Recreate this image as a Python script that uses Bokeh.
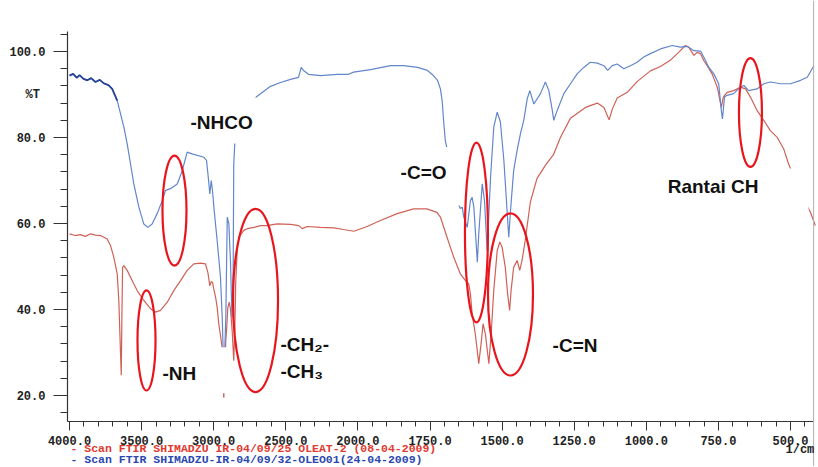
from bokeh.plotting import figure
from bokeh.models import (CustomJSTransform, FixedTicker, Label, BoxAnnotation,
                          Span, ColumnDataSource, Range1d, CDSView, IndexFilter)
from bokeh.transform import transform
from bokeh.embed import file_html
from bokeh.resources import INLINE

# ---------------- data ----------------
BLUE_WN = [4000, 3975, 3950, 3930, 3905, 3877, 3850, 3820, 3790, 3762, 3730, 3704,
           3669, 3646, 3623, 3600, 3577, 3554, 3519, 3485, 3457, 3427, 3392, 3357,
           3334, 3300, 3253, 3218, 3184, 3150, 3068, 3050, 3040, 3034, 3027, 3017,
           3008, 2999, 2976, 2953, 2941, 2934, 2930, 2925, 2916, 2906, 2895, 2883,
           2874, 2865, 2861, 2854, 2848, 2800, 2710, 2606, 2537, 2467, 2412, 2393,
           2377, 2343, 2259, 2141, 2065, 2030, 1956, 1887, 1842, 1793, 1759, 1738,
           1724, 1714, 1708, 1703, 1697, 1691, 1680, 1660, 1645, 1638, 1633, 1621,
           1610, 1604, 1598, 1586, 1581, 1569, 1561, 1552, 1540, 1529, 1517, 1506,
           1494, 1485, 1477, 1471, 1460, 1448, 1436, 1425, 1413, 1404, 1390, 1367,
           1350, 1338, 1326, 1321, 1309, 1286, 1263, 1240, 1217, 1194, 1170, 1147,
           1134, 1118, 1101, 1078, 1055, 1032, 1009, 986, 951, 910, 882, 858, 835,
           812, 801, 783, 766, 749, 740, 736, 729, 720, 697, 674, 662, 645, 616,
           593, 570, 535, 500, 465, 442, 419]
BLUE_T = [94.4, 94.8, 93.9, 94.5, 93.7, 93.3, 93.8, 92.9, 93.4, 92.6, 92.2, 91.3,
          88.6, 85.5, 82.4, 78.5, 73.9, 69.2, 63.8, 59.9, 59.1, 59.9, 62.3, 65.3,
          67.7, 68.1, 69.2, 72.3, 76.6, 76.2, 75.4, 74.7, 71.5, 69.5, 66.9, 70.0,
          67.5, 63.8, 56.0, 47.5, 38.2, 30.0, 27.0, 29.0, 38.2, 61.5, 59.9, 50.6,
          38.2, 49.1, 73.9, 78.5, 86.0, 88.0, 89.3, 91.9, 92.8, 93.5, 94.0, 96.3,
          95.6, 94.7, 94.4, 94.7, 94.7, 95.2, 95.8, 96.7, 96.7, 96.3, 95.6, 94.4,
          93.3, 91.3, 88.6, 84.0, 79.3, 77.4, 72.0, 66.0, 63.5, 63.8, 61.5, 59.1,
          65.3, 66.1, 63.8, 51.0, 57.6, 69.2, 65.3, 53.7, 70.8, 82.4, 85.9, 83.6,
          74.7, 65.3, 56.8, 63.0, 72.3, 77.0, 81.0, 84.0, 89.0, 90.9, 87.8, 90.2,
          92.9, 90.9, 86.3, 84.0, 86.3, 90.2, 92.5, 94.8, 96.3, 97.5, 97.3, 96.7,
          95.6, 96.7, 97.1, 96.0, 96.7, 97.5, 98.7, 99.5, 100.6, 101.4, 101.0, 101.2,
          100.2, 100.1, 98.7, 96.3, 94.8, 92.5, 86.3, 84.3, 89.4, 89.8, 90.2, 91.7,
          92.1, 90.9, 91.3, 92.5, 92.9, 92.5, 92.5, 93.3, 94.0, 96.7]

RED_WN = [4000, 3960, 3924, 3890, 3854, 3820, 3785, 3739, 3716, 3693, 3669, 3658,
          3646, 3641, 3637, 3632, 3623, 3600, 3565, 3531, 3485, 3438, 3404, 3369,
          3322, 3277, 3230, 3184, 3138, 3092, 3057, 3040, 3027, 3017, 3008, 3000,
          2987, 2976, 2965, 2948, 2941, 2934, 2930, 2925, 2916, 2911, 2902, 2892,
          2883, 2872, 2861, 2854, 2847, 2837, 2826, 2791, 2767, 2722, 2675, 2629,
          2560, 2467, 2410, 2386, 2352, 2259, 2167, 2100, 2028, 1968, 1922, 1864,
          1807, 1761, 1726, 1714, 1691, 1668, 1645, 1627, 1616, 1610, 1604, 1593,
          1581, 1573, 1566, 1558, 1546, 1538, 1529, 1517, 1508, 1500, 1489, 1481,
          1474, 1469, 1460, 1448, 1439, 1431, 1420, 1402, 1379, 1350, 1322, 1298,
          1263, 1211, 1170, 1147, 1129, 1118, 1101, 1066, 1032, 986, 951, 916, 882,
          865, 853, 835, 824, 812, 801, 789, 772, 754, 740, 733, 720, 697, 674, 656,
          639, 616, 593, 570, 547, 524, 507, 483, 459, 431, 414]
RED_T = [57.6, 57.2, 57.4, 57.0, 57.6, 57.3, 57.2, 56.4, 54.9, 52.2, 48.3, 42.1,
         29.7, 24.7, 37.4, 49.8, 50.2, 49.1, 46.7, 44.4, 42.1, 40.2, 39.4, 39.8,
         41.7, 44.4, 46.7, 49.1, 50.6, 50.8, 50.6, 48.5, 45.5, 46.5, 46.3, 44.8,
         42.9, 40.5, 36.7, 32.8, 30.9, 22.0, 19.5, 24.0, 33.0, 35.1, 40.5, 41.7,
         39.8, 35.1, 28.1, 35.1, 46.7, 53.7, 56.8, 58.4, 58.8, 59.1, 59.5, 59.5,
         59.9, 59.8, 59.5, 58.8, 59.3, 59.1, 59.0, 58.6, 58.2, 59.3, 60.7, 62.3,
         63.4, 63.4, 62.6, 61.5, 56.8, 52.2, 48.3, 46.7, 46.0, 43.7, 39.0, 34.3,
         27.4, 32.0, 36.7, 34.3, 27.4, 34.3, 44.4, 53.7, 55.7, 54.5, 49.8, 43.7,
         39.8, 44.4, 49.8, 51.4, 49.1, 51.4, 56.0, 65.0, 70.5, 73.5, 76.0, 80.0,
         84.5, 87.0, 88.0, 87.0, 84.1, 86.6, 89.2, 90.5, 93.0, 95.5, 96.5, 98.0, 100.2,
         101.4, 101.0, 99.1, 99.8, 99.5, 97.9, 96.7, 94.8, 91.7, 87.0, 89.4, 90.5, 90.9, 91.7, 91.3,
         89.4, 86.3, 84.0, 81.6, 80.1, 77.4, 73.9, 70.0, 66.3, 62.6, 59.5]

XTICK_LABELS = [4000, 3500, 3000, 2500, 2000, 1750, 1500, 1250, 1000, 750, 500]
YTICK_LABELS = [20, 40, 60, 80, 100]

LEGEND_RED = "- Scan FTIR SHIMADZU IR-04/09/25 OLEAT-2 (08-04-2009)"
LEGEND_BLUE = "- Scan FTIR SHIMADZU-IR-04/09/32-OLEO01(24-04-2009)"

# annotation texts, anchored at (wavenumber, %T)
ANN_TEXT = ["-NHCO", "-NH", "-CH\u2082-", "-CH\u2083", "-C=O", "-C=N", "Rantai CH"]
ANN_WN = [3161, 3355, 2537, 2537, 1852, 1325, 926]
ANN_T = [83.5, 25.1, 31.9, 25.6, 71.9, 31.6, 68.6]

# red ellipses marking the bands
ELL_WN = [3272, 3466, 2710, 1589, 1471, 639]
ELL_T = [63.0, 32.8, 42.1, 57.9, 43.5, 85.8]
ELL_W = [0.333, 0.25, 0.624, 0.319, 0.624, 0.319]
ELL_H = [25.6, 23.3, 42.6, 41.9, 37.7, 25.3]


# the instrument's axis changes scale at 2000 1/cm
def wn_to_u(w):
    return (4000 - w) / 500 if w >= 2000 else 4 + (2000 - w) / 250


wn_js = CustomJSTransform(
    func="return x >= 2000 ? (4000 - x) / 500 : 4 + (2000 - x) / 250;",
    v_func="""
const out = new Float64Array(xs.length);
for (let i = 0; i < xs.length; i++) {
  const w = xs[i];
  out[i] = w >= 2000 ? (4000 - w) / 500 : 4 + (2000 - w) / 250;
}
return out;
""")

X0, X1 = -0.028, 10.32     # extent of the printed axis (u)
Y0, Y1 = 14.0, 104.6       # extent of the printed axis (%T)

p = figure(width=817, height=466, output_backend="svg", toolbar_location=None,
           x_range=Range1d(-0.957, 10.374), y_range=Range1d(3.49, 111.86),
           min_border=0)
p.outline_line_color = None
p.xgrid.visible = False
p.ygrid.visible = False
p.background_fill_color = "white"
p.border_fill_color = "white"

blue = ColumnDataSource(dict(wn=BLUE_WN, t=BLUE_T))
red = ColumnDataSource(dict(wn=RED_WN, t=RED_T))
p.line(x=transform("wn", wn_js), y="t", source=red, line_color="#cf6157",
       line_width=1.2)
p.line(x=transform("wn", wn_js), y="t", source=blue, line_color="#6286cc",
       line_width=1.2)
# the noisy start of the blue scan prints darker
p.line(x=transform("wn", wn_js), y="t", source=blue,
       view=CDSView(filter=IndexFilter(list(range(0, 13)))),
       line_color="#27439a", line_width=1.8)

# white patches of the scan behind the hand-written labels
for l, r, t, b in [(1.609, 2.580, 89.8, 78.6), (4.383, 5.437, 77.8, 64.2),
                   (1.123, 2.233, 31.2, 20.5), (7.920, 10.25, 72.8, 56.0)]:
    p.add_layout(BoxAnnotation(left=l, right=r, top=t, bottom=b,
                               fill_color="white", fill_alpha=1.0,
                               line_alpha=0))

ell = ColumnDataSource(dict(wn=ELL_WN, t=ELL_T, w=ELL_W, h=ELL_H))
p.ellipse(x=transform("wn", wn_js), y="t", width="w", height="h", source=ell,
          fill_alpha=0, line_color="#e8161c", line_width=2.2, level="overlay")

for txt, w, t in zip(ANN_TEXT, ANN_WN, ANN_T):
    p.add_layout(Label(x=wn_to_u(w), y=t, text=txt, text_font="Liberation Sans",
                       text_font_style="bold", text_font_size="19px",
                       text_color="#111111", text_align="left",
                       text_baseline="middle"))

# axes, drawn at the printed frame position
xt = [wn_to_u(v) for v in XTICK_LABELS]
p.xaxis.ticker = FixedTicker(ticks=xt, minor_ticks=[i * 0.2 for i in range(0, 52)])
p.xaxis.major_label_overrides = {u: f"{v:.1f}" for u, v in zip(xt, XTICK_LABELS)}
p.yaxis.ticker = FixedTicker(ticks=YTICK_LABELS, minor_ticks=list(range(16, 105, 4)))
p.yaxis.major_label_overrides = {v: f"{v:.1f}" for v in YTICK_LABELS}
p.xaxis.fixed_location = Y0
p.yaxis.fixed_location = X0
p.xaxis.bounds = (X0, X1)
p.yaxis.bounds = (Y0, Y1)
for ax in (p.xaxis, p.yaxis):
    ax.axis_line_color = "#333333"
    ax.axis_line_width = 1.2
    ax.major_tick_line_color = "#333333"
    ax.minor_tick_line_color = "#333333"
    ax.major_tick_in = 0
    ax.minor_tick_in = 0
    ax.major_label_text_font = "Liberation Mono"
    ax.major_label_text_font_style = "bold"
    ax.major_label_text_font_size = "12px"
    ax.major_label_text_color = "#222222"
p.xaxis.major_tick_out = 9
p.xaxis.minor_tick_out = 5
p.xaxis.major_label_standoff = 6
p.yaxis.major_tick_out = 14
p.yaxis.minor_tick_out = 7
p.yaxis.major_label_standoff = 8

p.add_layout(Span(location=X1, dimension="height", line_color="#b0b0b0",
                  line_width=1))

mono = dict(text_font="Liberation Mono", text_font_style="bold",
            text_baseline="middle", text_align="left")
p.add_layout(Label(x=-0.61, y=89.8, text="%T", text_color="#222222",
                   text_font_size="12px", **mono))
p.add_layout(Label(x=9.93, y=7.44, text="1/cm", text_color="#222222",
                   text_font_size="12px", **mono))
p.add_layout(Label(x=0.014, y=7.56, text=LEGEND_RED, text_color="#e03a30",
                   text_font_size="11.5px", **mono))
p.add_layout(Label(x=0.014, y=5.12, text=LEGEND_BLUE, text_color="#2a48b0",
                   text_font_size="11.5px", **mono))

open("out.html", "w").write(file_html(p, INLINE))
